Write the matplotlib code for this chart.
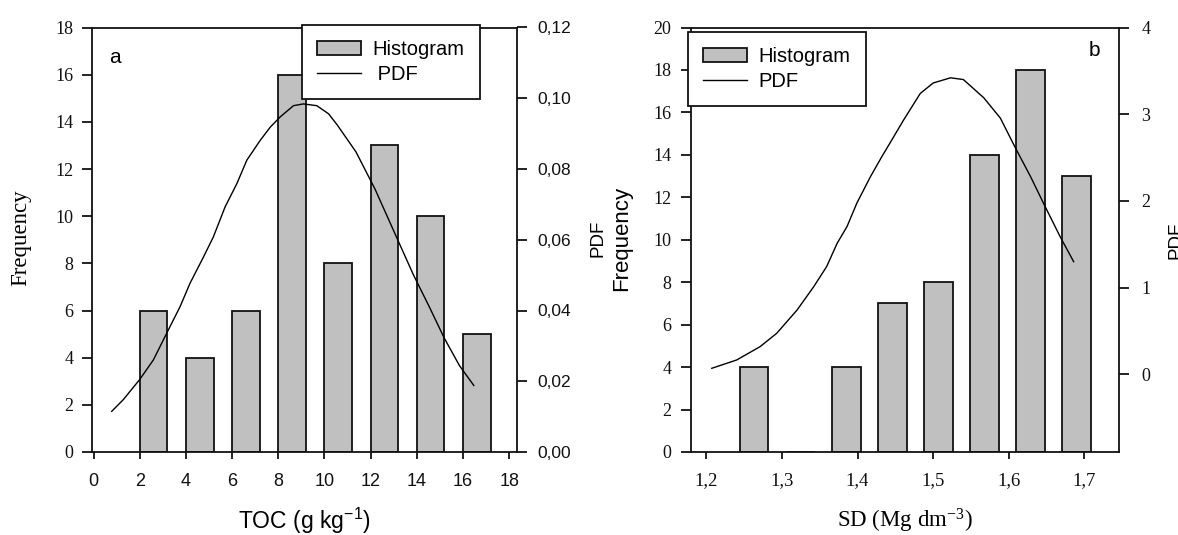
import matplotlib
matplotlib.use("Agg")
import matplotlib.pyplot as plt
from matplotlib.patches import Patch
from matplotlib.lines import Line2D

# ---------------- data ----------------
# Panel a: TOC
toc_bin_left = [2, 4, 6, 8, 10, 12, 14, 16]
toc_freq = [6, 4, 6, 16, 8, 13, 10, 5]
toc_pdf_x = [0.79, 1.29, 1.99, 2.59, 3.24, 3.75, 4.18, 4.76, 5.19, 5.70, 6.21, 6.64,
             7.22, 7.65, 8.08, 8.66, 9.09, 9.67, 10.18, 10.55, 11.37, 12.2, 13.2,
             13.86, 14.53, 15.19, 15.85, 16.47]
toc_pdf_y = [0.0115, 0.0148, 0.0204, 0.026, 0.0345, 0.0411, 0.0477, 0.0551, 0.0608,
             0.0693, 0.0759, 0.0825, 0.0881, 0.0918, 0.0947, 0.0979, 0.0984, 0.0979,
             0.0956, 0.0925, 0.0848, 0.0742, 0.0596, 0.0500, 0.0412, 0.0322, 0.0244,
             0.0188]
toc_xticks = [0, 2, 4, 6, 8, 10, 12, 14, 16, 18]
toc_yticks = [0, 2, 4, 6, 8, 10, 12, 14, 16, 18]
toc_pdf_ticks = [0.00, 0.02, 0.04, 0.06, 0.08, 0.10, 0.12]
toc_pdf_labels = ["0,00", "0,02", "0,04", "0,06", "0,08", "0,10", "0,12"]

# Panel b: SD
sd_bin_left = [1.244, 1.305, 1.366, 1.427, 1.488, 1.549, 1.610, 1.671]
sd_freq = [4, 0, 4, 7, 8, 14, 18, 13]
sd_pdf_x = [1.207, 1.240, 1.271, 1.293, 1.320, 1.342, 1.359, 1.373, 1.386, 1.399,
            1.417, 1.432, 1.443, 1.461, 1.483, 1.500, 1.523, 1.540, 1.567, 1.589,
            1.609, 1.629, 1.646, 1.668, 1.686]
sd_pdf_y = [0.071, 0.167, 0.321, 0.475, 0.744, 1.013, 1.243, 1.513, 1.705, 1.975,
            2.28, 2.51, 2.67, 2.935, 3.24, 3.36, 3.42, 3.40, 3.19, 2.955,
            2.61, 2.28, 1.975, 1.59, 1.30]
sd_xticks = [1.2, 1.3, 1.4, 1.5, 1.6, 1.7]
sd_xlabels = ["1,2", "1,3", "1,4", "1,5", "1,6", "1,7"]
sd_yticks = [0, 2, 4, 6, 8, 10, 12, 14, 16, 18, 20]
sd_pdf_ticks = [0, 1, 2, 3, 4]

# ---------------- style ----------------
SERIF = "Liberation Serif"
SANS = "Liberation Sans"
BAR_FC = "#c0c0c0"
EC = "#111111"
LW = 1.3

W, H = 1178, 535
fig = plt.figure(figsize=(W / 100, H / 100), dpi=100)


def fx(px):
    return px / W


def fy(py):
    return 1 - py / H


def make_axes(l, r, t, b):
    return fig.add_axes([fx(l), fy(b), fx(r) - fx(l), fy(t) - fy(b)])


def style_spines(ax):
    for s in ax.spines.values():
        s.set_linewidth(LW)
        s.set_color(EC)


# ---------- panel a ----------
axa = make_axes(92, 517, 27.5, 452)
axa.bar(toc_bin_left, toc_freq, width=1.2, align="edge", color=BAR_FC,
        edgecolor=EC, linewidth=LW, zorder=2)
axa.set_xlim(-0.065, 18.34)
axa.set_ylim(0, 18)
axa.set_xticks(toc_xticks)
axa.set_yticks(toc_yticks)
axa.set_xticklabels([str(v) for v in toc_xticks], fontfamily=SANS, fontsize=13)
axa.set_yticklabels([str(v) for v in toc_yticks], fontfamily=SERIF, fontsize=13)
axa.tick_params(axis="y", direction="out", length=7, width=LW, pad=6.5, colors=EC)
axa.tick_params(axis="x", direction="out", length=5, width=LW, pad=10, colors=EC)
style_spines(axa)

axa2 = axa.twinx()
axa2.plot(toc_pdf_x, toc_pdf_y, color="black", linewidth=1.0, zorder=3)
axa2.set_ylim(0, 0.12)
axa2.set_yticks(toc_pdf_ticks)
axa2.set_yticklabels(toc_pdf_labels, fontfamily=SANS, fontsize=12.5)
axa2.tick_params(axis="y", direction="out", length=7.5, width=LW, pad=7, colors=EC)
for s in axa2.spines.values():
    s.set_visible(False)

axa.text(0.04, 0.93, "a", transform=axa.transAxes, fontfamily=SANS, fontsize=15,
         ha="left", va="center")

# ---------- panel b ----------
axb = make_axes(691, 1119, 27.5, 452)
axb.bar(sd_bin_left, sd_freq, width=0.038, align="edge", color=BAR_FC,
        edgecolor=EC, linewidth=LW, zorder=2)
axb.set_xlim(1.1795, 1.746)
axb.set_ylim(0, 20)
axb.set_xticks(sd_xticks)
axb.set_xticklabels(sd_xlabels, fontfamily=SERIF, fontsize=13.5)
axb.set_yticks(sd_yticks)
axb.set_yticklabels([str(v) for v in sd_yticks], fontfamily=SERIF, fontsize=13)
axb.tick_params(axis="y", direction="out", length=7, width=LW, pad=7, colors=EC)
axb.tick_params(axis="x", direction="out", length=5, width=LW, pad=9.5, colors=EC)
style_spines(axb)

axb2 = axb.twinx()
axb2.plot(sd_pdf_x, sd_pdf_y, color="black", linewidth=1.0, zorder=3)
axb2.set_ylim(-0.894, 4)
axb2.set_yticks(sd_pdf_ticks)
axb2.set_yticklabels([str(v) for v in sd_pdf_ticks], fontfamily=SERIF, fontsize=13)
axb2.tick_params(axis="y", direction="out", length=7.5, width=LW, pad=8.5, colors=EC)
for s in axb2.spines.values():
    s.set_visible(False)

axb.text(0.955, 0.945, "b", transform=axb.transAxes, fontfamily=SANS, fontsize=15,
         ha="right", va="center")

# ---------- axis labels ----------
fig.text(fx(21), fy(238), "Frequency", rotation=90, ha="center", va="center",
         fontfamily=SERIF, fontsize=16.5)
fig.text(fx(304.5), fy(521), r"TOC (g kg$\mathregular{^{-1}}$)", ha="center", va="center",
         fontfamily=SANS, fontsize=16.5)
fig.text(fx(598), fy(238), "PDF", rotation=90, ha="center", va="center",
         fontfamily=SANS, fontsize=13.5)
fig.text(fx(622), fy(238), "Frequency", rotation=90, ha="center", va="center",
         fontfamily=SANS, fontsize=16)
fig.text(fx(905), fy(521), r"SD (Mg dm$\mathregular{^{-3}}$)", ha="center", va="center",
         fontfamily=SERIF, fontsize=16.5)
fig.text(fx(1168), fy(240), "PDF", rotation=90, ha="left", va="center",
         fontfamily=SANS, fontsize=13.5)


# ---------- legends ----------
def add_legend(x0, y0, pdf_label):
    handles = [Patch(facecolor=BAR_FC, edgecolor=EC, linewidth=LW),
               Line2D([0], [0], color="black", linewidth=1.0)]
    leg = fig.legend(
        handles, ["Histogram", pdf_label], loc="upper left",
        bbox_to_anchor=(fx(x0), fy(y0)), bbox_transform=fig.transFigure,
        borderaxespad=0, fancybox=False, framealpha=1, edgecolor=EC,
        prop={"family": SANS, "size": 14.5}, handlelength=2.2,
        handleheight=0.75, handletextpad=0.55, labelspacing=0.3, borderpad=0.75)
    leg.get_frame().set_linewidth(LW)
    return leg


add_legend(302, 25, " PDF")
add_legend(688, 32, "PDF")

fig.savefig("out.png", dpi=100)
